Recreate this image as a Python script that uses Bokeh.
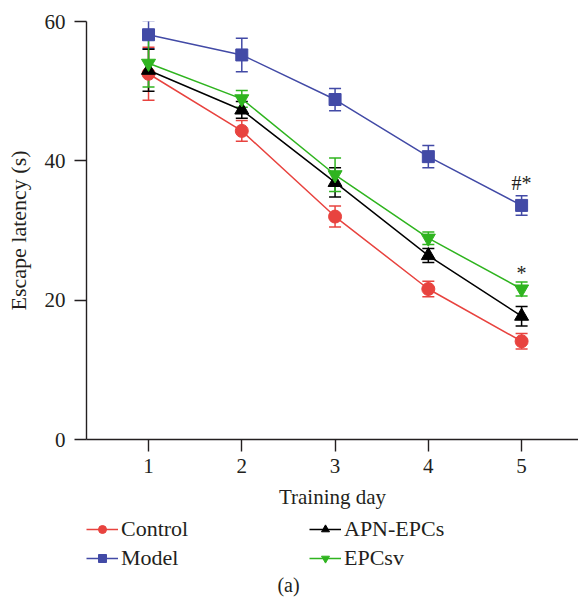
from bokeh.plotting import figure
from bokeh.layouts import column
from bokeh.models import (ColumnDataSource, Whisker, TeeHead, Legend, LegendItem,
                          Label, Range1d, FixedTicker)
from bokeh.core.properties import value
from bokeh.embed import file_html
from bokeh.resources import INLINE

days = [1, 2, 3, 4, 5]
control = [52.5, 44.3, 32.0, 21.6, 14.1]
control_err = [3.8, 1.5, 1.5, 1.1, 1.1]
model = [58.1, 55.2, 48.8, 40.6, 33.6]
model_err = [2.0, 2.4, 1.6, 1.6, 1.4]
apn = [53.0, 47.3, 36.9, 26.4, 17.7]
apn_err = [3.0, 1.2, 2.1, 1.0, 1.4]
epcsv = [54.0, 48.9, 38.0, 28.9, 21.6]
epcsv_err = [3.4, 1.2, 2.4, 0.9, 1.0]

sig_x = [5, 5]
sig_y = [36.8, 23.9]
sig_text = ["#*", "*"]

FONT = "Liberation Serif"
AXC = "#231f20"

p = figure(width=578, frame_height=418, output_backend="svg", toolbar_location=None,
           x_range=Range1d(0.335, 5.61), y_range=Range1d(0, 60),
           min_border_left=86, min_border_right=0, min_border_top=21,
           min_border_bottom=74)
p.outline_line_color = None
p.grid.visible = False
p.background_fill_color = None
p.border_fill_color = "white"

for ax in (p.xaxis[0], p.yaxis[0]):
    ax.major_tick_out = 12
    ax.major_tick_in = 0
    ax.minor_tick_line_color = None
    ax.axis_line_width = 1.4
    ax.major_tick_line_width = 1.4
    ax.axis_line_color = AXC
    ax.major_tick_line_color = AXC
    ax.major_label_text_font = FONT
    ax.major_label_text_font_size = "21px"
    ax.major_label_text_color = AXC
    ax.axis_label_text_font = FONT
    ax.axis_label_text_font_style = "normal"
    ax.axis_label_text_color = AXC

p.xaxis.axis_label_text_font_size = "21px"
p.yaxis.axis_label_text_font_size = "22px"
p.xaxis.ticker = FixedTicker(ticks=days)
p.yaxis.ticker = FixedTicker(ticks=[0, 20, 40, 60])
p.xaxis.axis_label = "Training day"
p.yaxis.axis_label = "Escape latency (s)"
p.xaxis.major_label_standoff = 7
p.xaxis.axis_label_standoff = 9
p.yaxis.major_label_standoff = 9
p.yaxis.axis_label_standoff = 11

series = [
    ("Control", control, control_err, "#e8433f", "circle", 13),
    ("Model", model, model_err, "#424aa6", "square", 12),
    ("APN-EPCs", apn, apn_err, "#000000", "triangle", 14),
    ("EPCsv", epcsv, epcsv_err, "#2fb41f", "inverted_triangle", 14),
]

# lower strip holding the legend and the panel tag
p2 = figure(width=578, height=93, output_backend="svg", toolbar_location=None,
            x_axis_type=None, y_axis_type=None, min_border=0,
            x_range=Range1d(-10, -9), y_range=Range1d(-10, -9))
p2.outline_line_color = None
p2.grid.visible = False
p2.background_fill_color = None
p2.border_fill_color = "white"

legend_items = {}
for name, vals, errs, col, mk, sz in series:
    src = ColumnDataSource(dict(
        x=days, y=vals,
        lo=[v - e for v, e in zip(vals, errs)],
        hi=[v + e for v, e in zip(vals, errs)]))
    w = Whisker(base="x", lower="lo", upper="hi", source=src,
                line_color=col, line_width=1.5,
                lower_head=TeeHead(size=12, line_color=col, line_width=1.5),
                upper_head=TeeHead(size=12, line_color=col, line_width=1.5))
    p.add_layout(w)
    p.line("x", "y", source=src, line_color=col, line_width=1.5)
    p.scatter("x", "y", source=src, marker=mk, size=sz,
              fill_color=col, line_color=col)
    # legend proxies in the lower strip (their data lie outside its view)
    l2 = p2.line("x", "y", source=src, line_color=col, line_width=1.5)
    s2 = p2.scatter("x", "y", source=src, marker=mk, size=sz,
                    fill_color=col, line_color=col)
    legend_items[name] = [l2, s2]

p.text(x=sig_x, y=sig_y, text=sig_text, text_font=value(FONT),
       text_font_size="20px", text_align="center", text_baseline="middle",
       text_color=AXC)

legend = Legend(items=[LegendItem(label=n, renderers=legend_items[n]) for n in
                       ["Control", "Model", "APN-EPCs", "EPCsv"]],
                ncols=2, location=(0, 35))
legend.label_text_font = FONT
legend.label_text_font_size = "22px"
legend.label_text_color = AXC
legend.glyph_width = 32
legend.glyph_height = 20
legend.label_standoff = 3
legend.label_height = 20
legend.label_width = 185
legend.spacing = 3
legend.padding = 0
legend.margin = 0
legend.border_line_color = None
legend.background_fill_alpha = 0
p2.add_layout(legend)

p2.add_layout(Label(x=202, y=22, x_units="screen", y_units="screen",
                    text="(a)", text_font=FONT, text_font_size="20px",
                    text_color=AXC, text_align="center", text_baseline="middle"))

layout = column(p, p2, spacing=0)
open("out.html", "w").write(file_html(layout, INLINE))
